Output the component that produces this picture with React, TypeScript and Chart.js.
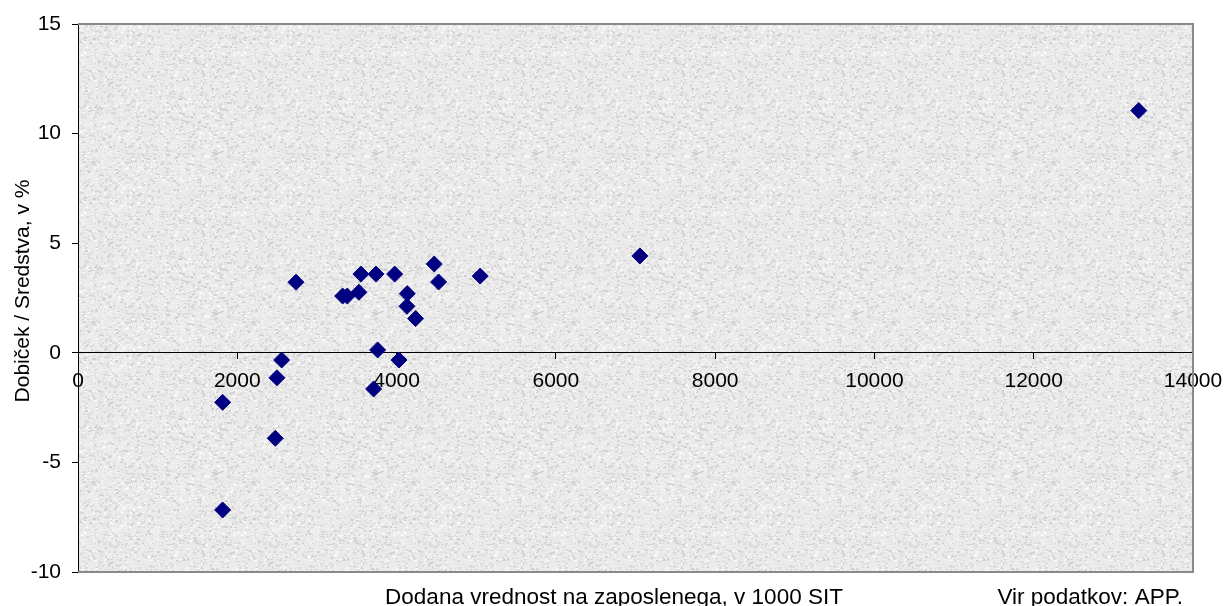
import React, { useEffect, useRef } from "react";
import { Chart, registerables } from "chart.js";

Chart.register(...registerables);

// Data (x: value added per employee, 1000 SIT; y: profit / assets, %)
const xValues = [
  2737, 3323, 3381, 3527, 3553, 3741, 3976, 4473, 4528, 4134, 4130, 4239,
  5050, 3762, 4030, 2557, 2498, 3712, 1816, 2477, 1816, 7055, 13319,
];
const yValues = [
  3.22, 2.59, 2.59, 2.76, 3.59, 3.59, 3.59, 4.05, 3.23, 2.70, 2.12, 1.56,
  3.50, 0.13, -0.33, -0.33, -1.14, -1.65, -2.26, -3.90, -7.17, 4.42, 11.05,
];

const xTicks = [0, 2000, 4000, 6000, 8000, 10000, 12000, 14000];
const yTicks = [-10, -5, 0, 5, 10, 15];

const xTitle = "Dodana vrednost na zaposlenega, v 1000 SIT";
const yTitle = "Dobiček / Sredstva, v %";
const sourceNote = "Vir podatkov: APP.";

const FONT = "'Liberation Sans', Arial, sans-serif";

function makeGranite(): HTMLCanvasElement {
  const c = document.createElement("canvas");
  c.width = 160;
  c.height = 160;
  const g = c.getContext("2d")!;
  g.fillStyle = "#ebebeb";
  g.fillRect(0, 0, 160, 160);
  let s = 12345;
  const rnd = () => {
    s = (s * 1103515245 + 12345) % 2147483648;
    return s / 2147483648;
  };
  for (let i = 0; i < 5600; i++) {
    const x = Math.floor(rnd() * 160);
    const y = Math.floor(rnd() * 160);
    const v = Math.floor(200 + rnd() * 56);
    g.fillStyle = `rgba(${v},${v},${v},0.8)`;
    const w = 1 + Math.floor(rnd() * 3);
    const h = 1 + Math.floor(rnd() * 2);
    g.fillRect(x, y, w, h);
  }
  return c;
}

export default function App() {
  const ref = useRef<HTMLCanvasElement | null>(null);

  useEffect(() => {
    document.body.style.margin = "0";
    const canvas = ref.current!;
    const granite = makeGranite();

    const bgPlugin = {
      id: "bgPlugin",
      beforeDraw(chart: any) {
        const { ctx, chartArea: a } = chart;
        ctx.save();
        ctx.fillStyle = "#ffffff";
        ctx.fillRect(0, 0, chart.width, chart.height);
        const pat = ctx.createPattern(granite, "repeat");
        ctx.fillStyle = pat || "#ebebeb";
        ctx.fillRect(a.left, a.top, a.right - a.left, a.bottom - a.top);
        ctx.restore();
      },
      beforeDatasetsDraw(chart: any) {
        const { ctx, chartArea: a } = chart;
        ctx.save();
        ctx.strokeStyle = "#8a8a8a";
        ctx.lineWidth = 2;
        ctx.beginPath();
        ctx.moveTo(a.left, a.top);
        ctx.lineTo(a.right, a.top);
        ctx.lineTo(a.right, a.bottom);
        ctx.lineTo(a.left, a.bottom);
        ctx.stroke();
        ctx.restore();
      },
      afterDraw(chart: any) {
        const { ctx } = chart;
        ctx.save();
        ctx.fillStyle = "#000000";
        ctx.font = `22.5px ${FONT}`;
        ctx.textBaseline = "alphabetic";
        ctx.textAlign = "center";
        ctx.fillText(xTitle, 614, 604);
        ctx.textAlign = "right";
        ctx.fillText(sourceNote, 1183, 604);
        ctx.translate(23, 291);
        ctx.rotate(-Math.PI / 2);
        ctx.font = `21px ${FONT}`;
        ctx.textAlign = "center";
        ctx.textBaseline = "middle";
        ctx.fillText(yTitle, 0, 0);
        ctx.restore();
      },
    };

    const chart = new Chart(canvas, {
      type: "scatter",
      data: {
        datasets: [
          {
            data: xValues.map((x, i) => ({ x, y: yValues[i] })),
            pointStyle: "rectRot",
            pointRadius: 8,
            pointHoverRadius: 8,
            backgroundColor: "#000080",
            borderColor: "#000080",
            borderWidth: 1,
          },
        ],
      },
      options: {
        animation: false,
        responsive: false,
        maintainAspectRatio: false,
        layout: { padding: { left: 0, top: 24, right: 33, bottom: 34 } },
        plugins: {
          legend: { display: false },
          tooltip: { enabled: false },
        },
        scales: {
          x: {
            type: "linear",
            position: { y: 0 } as any,
            min: 0,
            max: 14000,
            afterBuildTicks(scale: any) {
              scale.ticks = xTicks.map((v) => ({ value: v }));
            },
            afterFit(scale: any) {
              scale.paddingLeft = 0;
              scale.paddingRight = 0;
            },
            ticks: {
              color: "#000",
              font: { family: FONT, size: 21 },
              padding: 10,
              maxRotation: 0,
              autoSkip: false,
              callback: (v: any) => String(v),
            },
            grid: {
              drawOnChartArea: false,
              drawTicks: true,
              tickLength: 6,
              tickColor: "#000",
            },
            border: { display: true, color: "#000", width: 1 },
          },
          y: {
            type: "linear",
            position: "left",
            min: -10,
            max: 15,
            afterBuildTicks(scale: any) {
              scale.ticks = yTicks.map((v) => ({ value: v }));
            },
            afterFit(scale: any) {
              scale.width = 78;
              scale.paddingTop = 0;
              scale.paddingBottom = 0;
            },
            ticks: {
              color: "#000",
              font: { family: FONT, size: 21 },
              padding: 11,
              autoSkip: false,
              callback: (v: any) => String(v),
            },
            grid: {
              drawOnChartArea: false,
              drawTicks: true,
              tickLength: 6,
              tickColor: "#000",
            },
            border: { display: true, color: "#000", width: 1 },
          },
        },
      },
      plugins: [bgPlugin],
    });

    return () => chart.destroy();
  }, []);

  return (
    <div style={{ width: 1226, height: 606 }}>
      <canvas ref={ref} width={1226} height={606} style={{ display: "block" }} />
    </div>
  );
}
